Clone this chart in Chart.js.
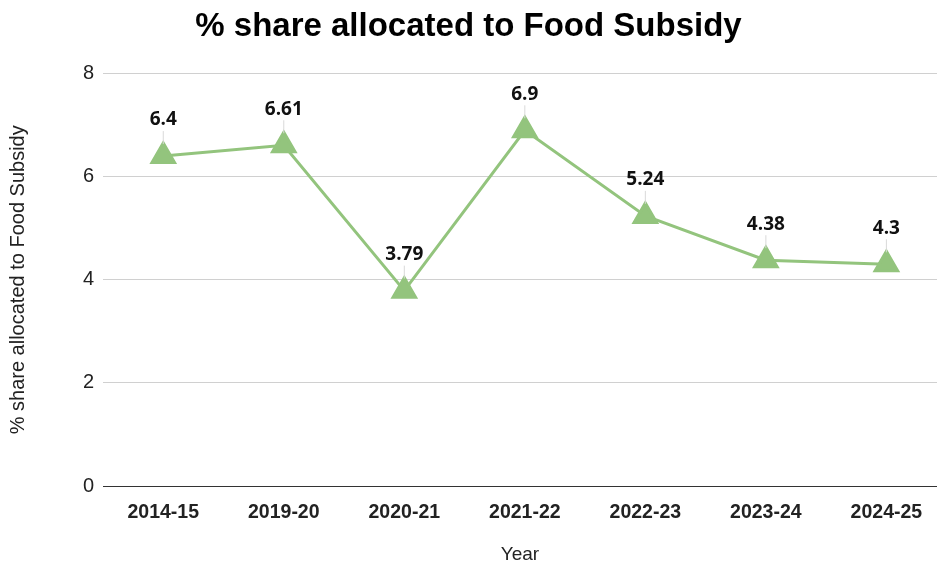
<!DOCTYPE html>
<html>
<head>
<meta charset="utf-8">
<script src="https://cdn.jsdelivr.net/npm/chart.js@4"></script>
<style>
  html, body { margin: 0; padding: 0; background: #fff; overflow: hidden; }
  #chart { display: block; }
</style>
</head>
<body>
<canvas id="chart" width="937" height="564"></canvas>
<script>
const years = ['2014-15', '2019-20', '2020-21', '2021-22', '2022-23', '2023-24', '2024-25'];
const shares = [6.4, 6.61, 3.79, 6.9, 5.24, 4.38, 4.3];
const yTicks = [0, 2, 4, 6, 8];

const lineGreen = '#93c47d';

// value labels above each point, with a thin leader line down to the marker
const valueLabels = {
    id: 'valueLabels',
    afterDatasetsDraw(chart) {
        const ctx = chart.ctx;
        const meta = chart.getDatasetMeta(0);
        ctx.save();
        meta.data.forEach((pt, i) => {
            ctx.strokeStyle = '#d9d9d9';
            ctx.lineWidth = 1;
            ctx.beginPath();
            ctx.moveTo(pt.x, pt.y - 25);
            ctx.lineTo(pt.x, pt.y - 12);
            ctx.stroke();
            ctx.fillStyle = '#111';
            ctx.font = 'bold 19px "Open Sans"';
            ctx.textAlign = 'center';
            ctx.textBaseline = 'middle';
            ctx.fillText(String(shares[i]), pt.x, pt.y - 36);
        });
        ctx.restore();
    }
};

new Chart(document.getElementById('chart'), {
    type: 'line',
    data: {
        datasets: [{
            data: shares.map((v, i) => ({ x: i, y: v })),
            borderColor: lineGreen,
            backgroundColor: lineGreen,
            borderWidth: 3,
            pointStyle: 'triangle',
            pointRadius: 13,
            pointHoverRadius: 13,
            tension: 0
        }]
    },
    options: {
        responsive: false,
        animation: false,
        layout: { autoPadding: false },
        plugins: {
            legend: { display: false },
            tooltip: { enabled: false },
            title: {
                display: true,
                text: '% share allocated to Food Subsidy',
                color: '#000',
                font: { family: 'Arial', size: 33, weight: 'bold', lineHeight: 1.2 },
                padding: { top: 7, bottom: 27 }
            }
        },
        scales: {
            x: {
                type: 'linear',
                // the plot is cut off a little on the right in the reference
                min: -0.5,
                max: 6.42,
                afterBuildTicks(axis) { axis.ticks = years.map((y, i) => ({ value: i })); },
                grid: { display: false },
                border: { color: '#333', width: 1 },
                ticks: {
                    color: '#222',
                    padding: 7,
                    font: { family: 'Arial', size: 19.5, weight: 'bold' },
                    callback: v => years[v]
                },
                title: {
                    display: true,
                    text: 'Year',
                    color: '#222',
                    font: { family: 'Arial', size: 19, lineHeight: 1 },
                    padding: { top: 0, bottom: 0 }
                },
                afterFit(axis) { axis.height = 78; }
            },
            y: {
                min: 0,
                max: 8,
                afterBuildTicks(axis) { axis.ticks = yTicks.map(v => ({ value: v })); },
                grid: {
                    color: ctx => ctx.tick && ctx.tick.value === 0 ? '#333' : '#d0d0d0',
                    drawTicks: false
                },
                border: { display: false },
                ticks: {
                    color: '#222',
                    padding: 9,
                    font: { family: 'Arial', size: 20 }
                },
                title: {
                    display: true,
                    text: '% share allocated to Food Subsidy',
                    color: '#222',
                    font: { family: 'Arial', size: 20, lineHeight: 1.2 },
                    padding: { top: 6, bottom: 0 }
                },
                afterFit(axis) { axis.width = 103; }
            }
        }
    },
    plugins: [valueLabels]
});
</script>
</body>
</html>
